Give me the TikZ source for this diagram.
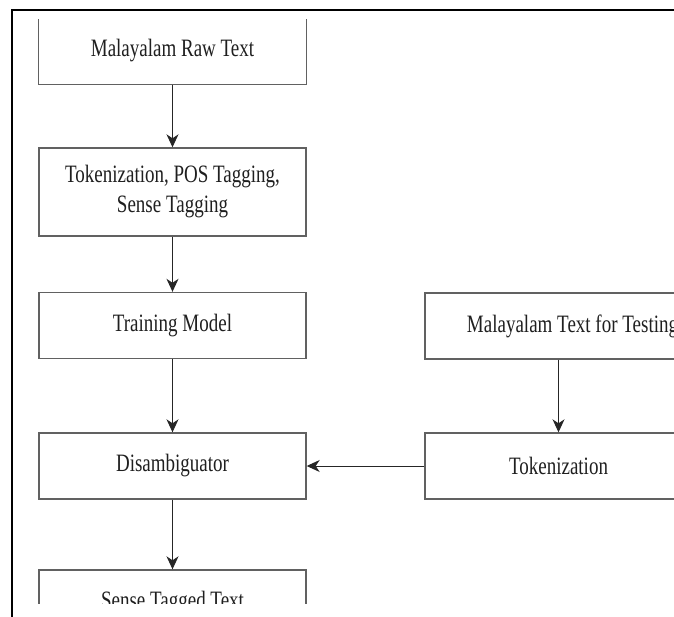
\documentclass[tikz,border=0pt]{standalone}
\usepackage{fontspec}
\setmainfont{Liberation Serif}[FakeStretch=0.76]
\usetikzlibrary{arrows.meta}

\begin{document}
\begin{tikzpicture}[x=1pt,y=-1pt,
  box/.style={draw=black!62, line width=1.4pt, minimum width=267pt,
    minimum height=66pt, inner sep=0pt, align=center,
    font=\fontsize{25}{30}\selectfont, text=black!88},
  boxline/.style={draw=black!62, line width=1.4pt},
  flow/.style={draw=black!85, line width=1pt,
    -{Stealth[length=13pt,width=12pt,inset=4pt]}},
  frame/.style={draw=black, line width=2.4pt},
]
\useasboundingbox (0,0) rectangle (674,617);
\clip (0,0) rectangle (674,617);

% outer frame (left and top edges)
\draw[frame] (12,617) -- (12,10) -- (674,10);

% training pipeline (left column)
\node[box, draw=none] (raw) at (172.5,51) {Malayalam Raw Text};
\draw[boxline] ([yshift=-2pt]raw.north west) -- (raw.south west)
  -- (raw.south east) -- ([yshift=-2pt]raw.north east);
\node[box, minimum height=88pt] (prep) at (172.5,192)
  {Tokenization, POS Tagging,\\Sense Tagging};
\node[box] (train) at (172.5,325.5) {Training Model};
\node[box] (dis) at (172.5,466) {Disambiguator};
\begin{scope}
  \clip (0,0) rectangle (674,603);
  \node[box] (out) at (172.5,603) {Sense Tagged Text};
\end{scope}

% testing branch (right column)
\node[box] (test) at (558.5,326)
  {\hspace*{28pt}Malayalam Text for Testing};
\node[box] (tok) at (558.5,466) {Tokenization};

% connectors
\draw[flow] (raw.south) -- (prep.north);
\draw[flow] (prep.south) -- (train.north);
\draw[flow] (train.south) -- (dis.north);
\draw[flow] (dis.south) -- (out.north);
\draw[flow] (test.south) -- (tok.north);
\draw[flow] (tok.west) -- (dis.east);
\end{tikzpicture}
\end{document}
